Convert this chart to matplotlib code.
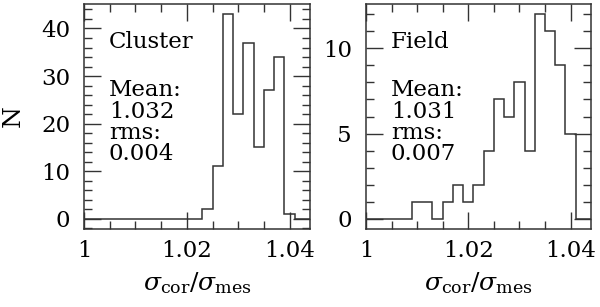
import numpy as np
import matplotlib.pyplot as plt
from matplotlib.ticker import MultipleLocator

# bin edges (width 0.002) and counts
edges = np.round(np.arange(0.999, 1.0451, 0.002), 3)
cluster_counts = [0, 0, 0, 0, 0, 0, 0, 0, 0, 0, 0, 0,
                  2, 11, 43, 22, 37, 15, 27, 34, 1, 0, 0]
field_counts = [0, 0, 0, 0, 0, 1, 1, 0, 1, 2, 1, 2,
                4, 7, 6, 8, 4, 12, 11, 9, 5, 0, 0]

panel_names = ["Cluster", "Field"]
means = ["1.032", "1.031"]
rms = ["0.004", "0.007"]
ymajor = [10, 5]
yminor = [2, 1]

plt.rcParams['font.family'] = 'DejaVu Serif'
plt.rcParams['mathtext.fontset'] = 'dejavuserif'
plt.rcParams['font.size'] = 16.5

fig = plt.figure(figsize=(6, 3.07), dpi=100)
ax1 = fig.add_axes([0.14, 0.254, 0.377, 0.733])
ax2 = fig.add_axes([0.61, 0.254, 0.375, 0.733])

for ax, counts, name, m, r, maj, mnr in zip([ax1, ax2], [cluster_counts, field_counts],
                                           panel_names, means, rms, ymajor, yminor):
    ax.stairs(counts, edges, baseline=None, color='#333333', lw=1.1)
    top = max(counts)
    ax.set_xlim(1.0, 1.044)
    ax.set_ylim(-0.05 * top, 1.05 * top)
    ax.xaxis.set_major_locator(MultipleLocator(0.02))
    ax.xaxis.set_minor_locator(MultipleLocator(0.005))
    ax.yaxis.set_major_locator(MultipleLocator(maj))
    ax.yaxis.set_minor_locator(MultipleLocator(mnr))
    ax.set_xticks([1.0, 1.02, 1.04])
    ax.set_xticklabels(["1", "1.02", "1.04"])
    ax.tick_params(which='both', direction='in', top=True, right=True, width=1.0, color='#333333')
    ax.tick_params(which='major', length=12, pad=8)
    ax.tick_params(which='minor', length=6)
    ax.tick_params(axis='y', pad=10)
    for s in ax.spines.values():
        s.set_linewidth(1.1)
        s.set_color('#333333')
    ax.set_xlabel(r"$\sigma_{\rm cor}/\sigma_{\rm mes}$", fontsize=18, labelpad=6)
    ax.text(0.11, 0.83, name, transform=ax.transAxes, ha='left', va='center')
    ax.text(0.11, 0.665, "Mean:\n" + m + "\nrms:\n" + r, transform=ax.transAxes,
            ha='left', va='top', linespacing=0.95)

ax1.set_ylabel("N", fontsize=18, labelpad=12)

plt.savefig("out.png", dpi=100)
